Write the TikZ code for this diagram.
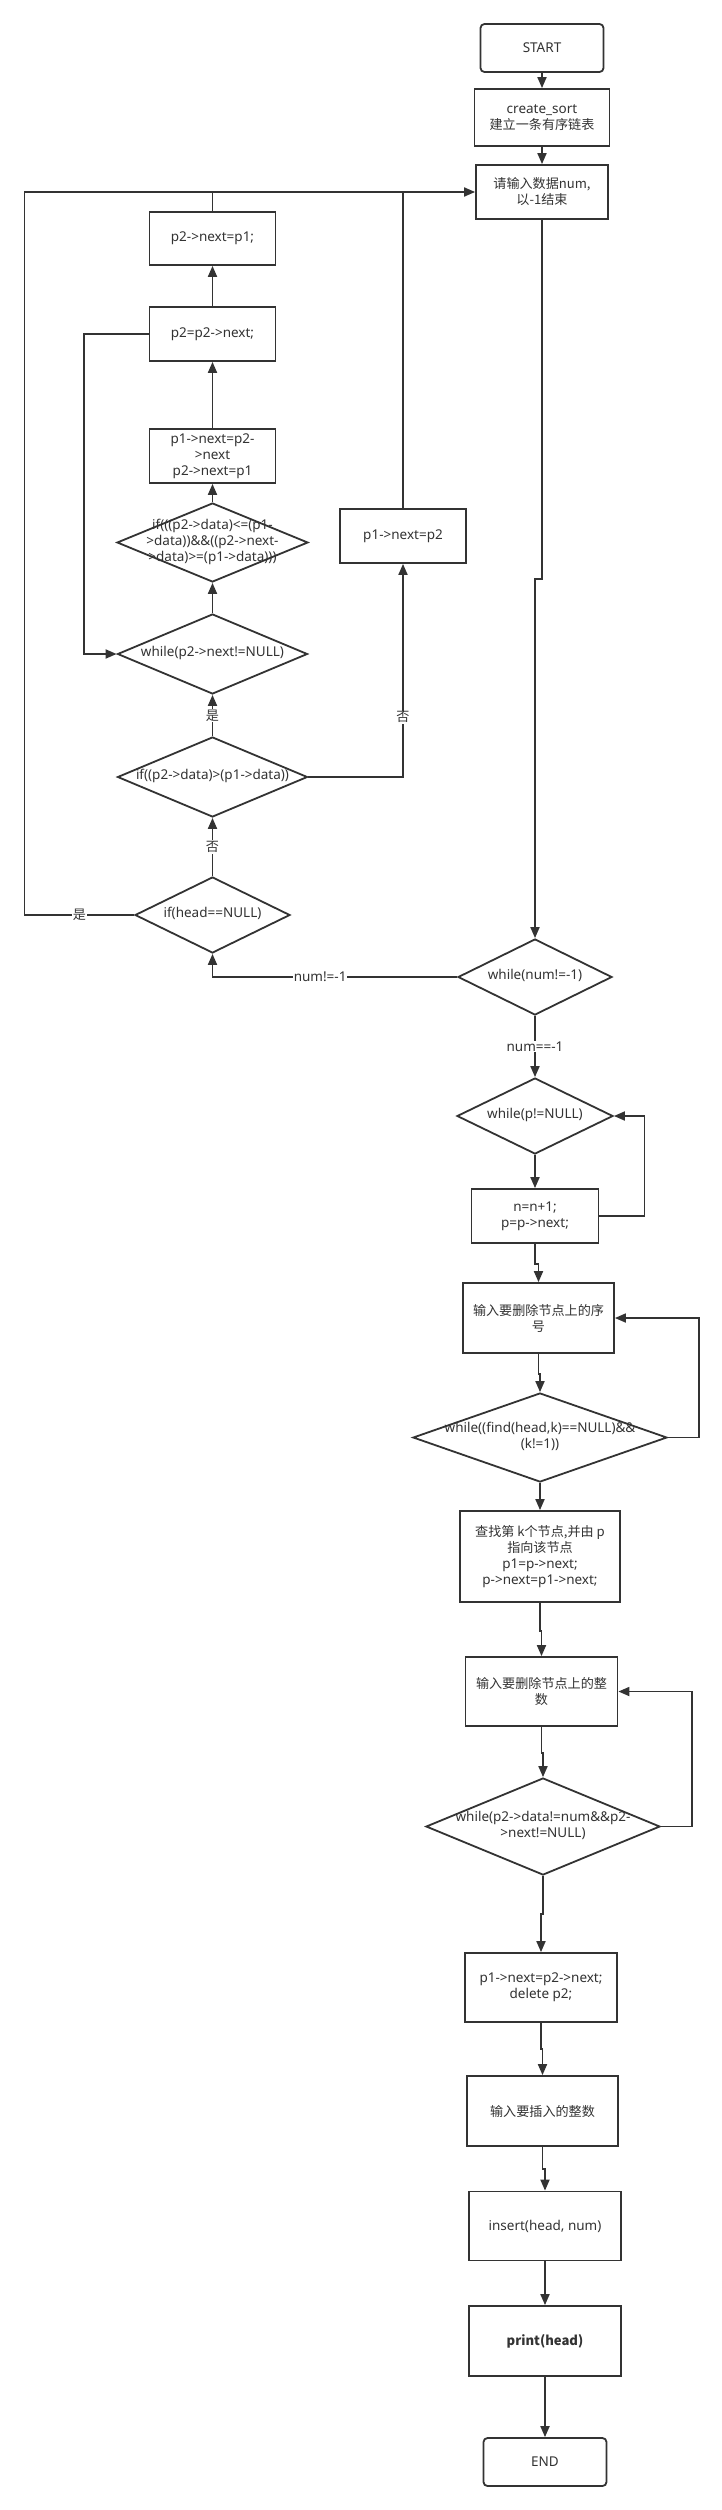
\documentclass[tikz,border=0pt]{standalone}
\usepackage{fontspec}
\setmainfont{Noto Sans}
\newfontfamily\cjk{Noto Sans CJK SC}[Scale=0.97]
\usetikzlibrary{shapes.geometric,arrows.meta}
\definecolor{ink}{HTML}{333333}
\newcommand{\dtext}[1]{\makebox[0pt]{\raisebox{-0.25em}[0pt][0pt]{\begin{tabular}{@{}c@{}}#1\end{tabular}}}}

\begin{document}
\begin{tikzpicture}[x=1pt,y=-1pt,color=ink,line width=1.8pt,
  font=\fontsize{13.5}{16}\selectfont,
  >={Triangle[length=11pt,width=9pt]},
  dims/.style 2 args={minimum width=#1pt,minimum height=#2pt},
  box/.style={draw,fill=white,align=center,inner sep=2pt},
  term/.style={box,rounded corners=4pt},
  decision/.style={draw,fill=white,diamond,inner sep=0pt},
  lbl/.style={fill=white,inner sep=1pt}]
\useasboundingbox (0,0) rectangle (721,2510);

\node[term,dims={123}{48}] (start) at (542,48) {START};
\node[box,dims={135}{57}] (create) at (542,117.5) {create\_sort\\{\cjk 建立一条有序链表}};
\node[box,dims={132}{54}] (input) at (542,192) {{\cjk 请输入数据num,}\\{\cjk 以-1结束}};
\coordinate (corner) at (24.5,192);

\node[box,dims={126}{53}] (setp1) at (212.5,238.5) {p2->next=p1;};
\node[box,dims={126}{54}] (step2) at (212.5,334) {p2=p2->next;};
\node[box,dims={126}{54}] (relink) at (212.5,456) {p1->next=p2-\\>next\\p2->next=p1};
\node[decision,dims={191}{79}] (ifmid) at (212.5,542.5) {\dtext{if(((p2->data)<=(p1-\\>data))\&\&((p2->next-\\>data)>=(p1->data)))}};
\node[decision,dims={190}{80}] (whilenx) at (212.5,654) {\dtext{while(p2->next!=NULL)}};
\node[decision,dims={190}{80}] (ifgt) at (212.5,777) {\dtext{if((p2->data)>(p1->data))}};
\node[box,dims={126}{54}] (setnx) at (403,536) {p1->next=p2};
\node[decision,dims={155}{76}] (ifhead) at (212.5,915) {\dtext{if(head==NULL)}};

\node[decision,dims={154}{76}] (whilenum) at (535,977) {\dtext{while(num!=-1)}};
\node[decision,dims={156}{76}] (whilep) at (535,1116) {\dtext{while(p!=NULL)}};
\node[box,dims={127}{54}] (count) at (535,1216) {n=n+1;\\p=p->next;};
\node[box,dims={151}{70}] (askk) at (538.5,1318) {\cjk 输入要删除节点上的序\\\cjk 号};
\node[decision,dims={254}{89}] (whilefind) at (540,1437.5) {\dtext{while((find(head,k)==NULL)\&\&\\(k!=1))}};
\node[box,dims={160}{91}] (locate) at (540,1556.5) {{\cjk 查找第 k个节点,并由 p}\\{\cjk 指向该节点}\\p1=p->next;\\p->next=p1->next;};
\node[box,dims={152}{69}] (asknum) at (541.5,1691.5) {\cjk 输入要删除节点上的整\\\cjk 数};
\node[decision,dims={234}{97}] (whiledata) at (543,1826.5) {\dtext{while(p2->data!=num\&\&p2-\\>next!=NULL)}};
\node[box,dims={152}{69}] (remove) at (541,1987.5) {p1->next=p2->next;\\delete p2;};
\node[box,dims={151}{70}] (askins) at (542.5,2111) {\cjk 输入要插入的整数};
\node[box,dims={152}{69}] (insert) at (545,2226) {insert(head, num)};
\node[box,dims={152}{70}] (print) at (545,2341) {\cjk\bfseries print(head)};
\node[term,dims={123}{48}] (finish) at (545,2462) {END};

\draw[->] (start) -- (create);
\draw[->] (create) -- (input);
\draw[->] (input.south) -- ++(0,359) -| (whilenum.north);
\draw[->] (whilenum.west) -| (ifhead.south) node[lbl,pos=0.28]{num!=-1};
\draw[->] (ifhead) -- (ifgt) node[lbl,midway]{\cjk 否};
\draw[->] (ifhead.west) -| (corner) node[lbl,pos=0.25]{\cjk 是} -- (input.west);
\draw[->] (ifgt) -- (whilenx) node[lbl,midway]{\cjk 是};
\draw[->] (ifgt.east) -| (setnx.south) node[lbl,pos=0.64]{\cjk 否};
\draw (setnx.north) -- (setnx.north |- corner);
\draw (setp1.north) -- (setp1.north |- corner);
\draw[->] (whilenx) -- (ifmid);
\draw[->] (ifmid) -- (relink);
\draw[->] (relink) -- (step2);
\draw[->] (step2) -- (setp1);
\draw[->] (step2.west) -- ++(-65,0) |- (whilenx.west);

\draw[->] (whilenum) -- (whilep) node[lbl,midway]{num==-1};
\draw[->] (whilep) -- (count);
\draw[->] (count.east) -- ++(45,0) |- (whilep.east);
\draw[->] (count.south) -- ++(0,20) -| (askk.north);
\draw[->] (askk.south) -- ++(0,20) -| (whilefind.north);
\draw[->] (whilefind.east) -- ++(31,0) |- (askk.east);
\draw[->] (whilefind) -- (locate);
\draw[->] (locate.south) -- ++(0,28) -| (asknum.north);
\draw[->] (asknum.south) -- ++(0,26) -| (whiledata.north);
\draw[->] (whiledata.east) -- ++(31,0) |- (asknum.east);
\draw[->] (whiledata.south) -- ++(0,38) -| (remove.north);
\draw[->] (remove.south) -- ++(0,26) -| (askins.north);
\draw[->] (askins.south) -- ++(0,22) -| (insert.north);
\draw[->] (insert) -- (print);
\draw[->] (print) -- (finish);
\end{tikzpicture}
\end{document}
